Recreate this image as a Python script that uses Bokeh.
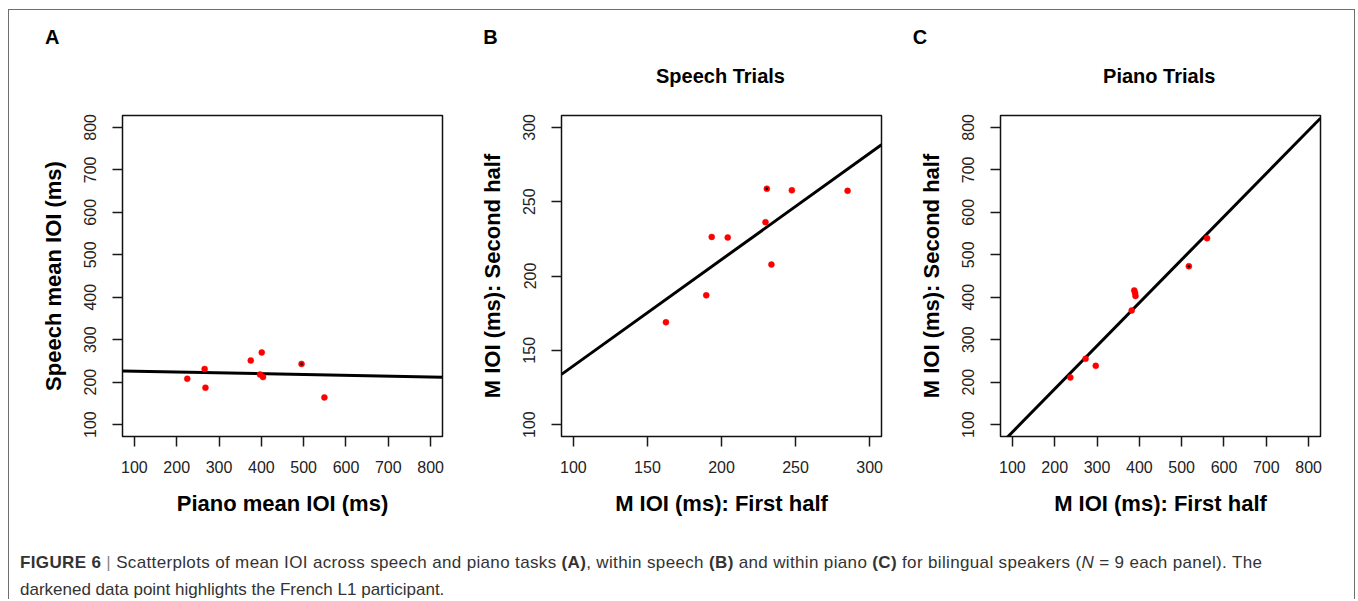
import numpy as np
from bokeh.plotting import figure
from bokeh.models import Range1d, FixedTicker, Div
from bokeh.layouts import row, column
from bokeh.embed import file_html
from bokeh.resources import INLINE

# ---------------- data ----------------
# Panel A: speech vs piano mean IOI (ms)
piano_mean_ioi = [225, 266, 268, 375, 401, 397, 404, 495, 549]
speech_mean_ioi = [208, 231, 187, 251, 270, 218, 212, 243, 164]
# Panel B: speech trials, first vs second half
speech_first_half = [162.5, 189.7, 193.4, 204.2, 229.7, 230.6, 233.7, 247.5, 285.1]
speech_second_half = [168.9, 187.0, 226.3, 225.9, 236.2, 258.7, 207.7, 257.7, 257.3]
# Panel C: piano trials, first vs second half
piano_first_half = [237, 273, 297, 382, 388, 390, 391, 517, 560]
piano_second_half = [211, 255, 238.5, 369, 416, 410, 403, 473, 539]
# index of the French L1 participant (darkened point) in each panel
french_idx_A = 7
french_idx_B = 5
french_idx_C = 7

ticks_wide = [100, 200, 300, 400, 500, 600, 700, 800]
ticks_speech = [100, 150, 200, 250, 300]
lim_wide = (100, 800)
lim_speech = (100, 300)

panel_letters = ["A", "B", "C"]
panel_titles = ["", "Speech Trials", "Piano Trials"]

FONT = "Liberation Sans"
FRAME_W, FRAME_H = 320, 321


def panel(x, y, dark_idx, lim, ticks, xlab, ylab, border_right):
    pad = 0.04 * (lim[1] - lim[0])
    x0, x1 = lim[0] - pad, lim[1] + pad
    p = figure(frame_width=FRAME_W, frame_height=FRAME_H,
               x_range=Range1d(x0, x1), y_range=Range1d(x0, x1),
               output_backend="svg", toolbar_location=None,
               min_border_left=113, min_border_right=border_right,
               min_border_top=6, min_border_bottom=98)
    p.background_fill_color = "white"
    p.border_fill_color = "white"
    p.outline_line_color = "#111111"
    p.outline_line_width = 1.5
    p.xgrid.visible = False
    p.ygrid.visible = False

    for ax in (p.xaxis[0], p.yaxis[0]):
        ax.ticker = FixedTicker(ticks=ticks)
        ax.axis_line_color = None
        ax.major_tick_out = 10
        ax.major_tick_in = 0
        ax.major_tick_line_color = "#1a1a1a"
        ax.major_tick_line_width = 1.5
        ax.minor_tick_line_color = None
        ax.major_label_text_font = FONT
        ax.major_label_text_font_size = "16px"
        ax.major_label_text_color = "#222222"
        ax.axis_label_text_font = FONT
        ax.axis_label_text_font_size = "22px"
        ax.axis_label_text_font_style = "bold"
        ax.axis_label_text_color = "black"
    p.xaxis.axis_label = xlab
    p.yaxis.axis_label = ylab
    p.xaxis.major_label_standoff = 14
    p.xaxis.axis_label_standoff = 15
    p.yaxis.major_label_orientation = "vertical"
    p.yaxis.major_label_standoff = 16
    p.yaxis.axis_label_standoff = 16

    # regression line (least squares fit of the panel's points)
    m, b = np.polyfit(np.array(x, float), np.array(y, float), 1)
    xs = np.array([x0, x1])
    p.line(xs, m * xs + b, line_color="black", line_width=3)

    # points
    p.scatter(x, y, size=6, fill_color="#ff0000", line_color="#ff0000", line_width=0.5)
    p.scatter([x[dark_idx]], [y[dark_idx]], size=2.6, fill_color="black", line_color=None)
    return p


pA = panel(piano_mean_ioi, speech_mean_ioi, french_idx_A, lim_wide, ticks_wide,
           "Piano mean IOI (ms)", "Speech mean IOI (ms)", 6)
pB = panel(speech_first_half, speech_second_half, french_idx_B, lim_speech, ticks_speech,
           "M IOI (ms): First half", "M IOI (ms): Second half", 6)
pC = panel(piano_first_half, piano_second_half, french_idx_C, lim_wide, ticks_wide,
           "M IOI (ms): First half", "M IOI (ms): Second half", 34)

# header with panel letters and titles
letter_left = [36, 474.3, 903.7]
title_center = [0, 711.5, 1150.2]
spans = []
for i in range(3):
    spans.append(
        '<span style="position:absolute;left:%.1fpx;top:27.2px;transform:translateY(-50%%);'
        'line-height:1;">%s</span>' % (letter_left[i], panel_letters[i]))
    if panel_titles[i]:
        spans.append(
            '<span style="position:absolute;left:%.1fpx;top:66.4px;transform:translate(-50%%,-50%%);'
            'line-height:1;white-space:nowrap;">%s</span>' % (title_center[i], panel_titles[i]))
header_html = ('<div style="position:relative;width:1345px;height:99px;'
               'font-family:\'Liberation Sans\',Arial,sans-serif;font-weight:bold;'
               'font-size:20px;color:#000;">' + "".join(spans) + '</div>')
header = Div(text=header_html, width=1345, height=99, margin=0)

caption_html = (
    '<div style="font-family:\'Liberation Sans\',Arial,sans-serif;font-size:17px;'
    'color:#333333;padding-left:11px;padding-top:19px;white-space:nowrap;">'
    '<div style="line-height:20px;letter-spacing:0.35px;"><b>FIGURE 6</b> '
    '<span style="color:#888">|</span> '
    'Scatterplots of mean IOI across speech and piano tasks <b>(A)</b>, within speech '
    '<b>(B)</b> and within piano <b>(C)</b> for bilingual speakers (<i>N</i> = 9 each panel). The</div>'
    '<div style="line-height:20px;margin-top:7px;">darkened data point highlights the French L1 participant.</div>'
    '</div>'
)
caption = Div(text=caption_html, width=1345, height=65, margin=0)

layout = column(header, row(pA, pB, pC), caption,
                margin=(9, 0, 0, 8),
                styles={"border-top": "1px solid #6e6e6e",
                        "border-left": "1px solid #6e6e6e",
                        "border-right": "1px solid #6e6e6e"})

open("out.html", "w").write(file_html(layout, INLINE))
